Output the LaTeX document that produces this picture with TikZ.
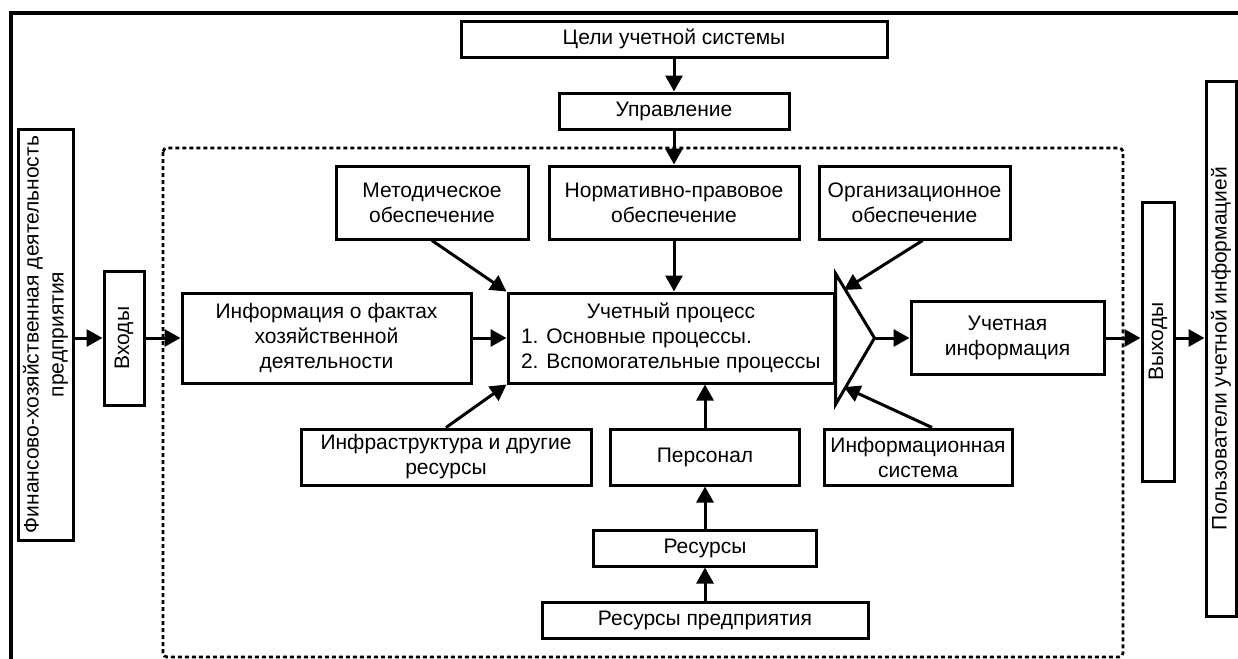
\documentclass[tikz,border=0pt]{standalone}
\usepackage{fontspec}
\setmainfont{Liberation Sans}
\usetikzlibrary{arrows.meta}
\tikzset{
    plain-box/.style = {draw, line width=1.5pt, rectangle, inner sep=0pt, align=center, font=\fontsize{10.5}{12.5}\selectfont},
    flow-arrow/.style = {line width=1.5pt, -{Triangle[length=8pt, width=8.5pt]}},
    dash-frame/.style = {line width=1.4pt, dash pattern=on 2pt off 1.5pt, rounded corners=2pt},
}

\begin{document}
\begin{tikzpicture}[x=0.5pt, y=-0.5pt]
\useasboundingbox (0,0) rectangle (1238,659);
% outer frame and dashed area
\draw[line width=2.2pt] (11,659) -- (11,13) -- (1238,13);
\draw[dash-frame] (163,148) rectangle (1123,657);

% top
\node[plain-box, minimum width=213pt, minimum height=18pt] (goals) at (674,39) {Цели учетной системы};
\node[plain-box, minimum width=115pt, minimum height=18pt] (control) at (674,111) {Управление};

% upper row
\node[plain-box, minimum width=96pt, minimum height=36.5pt] (method) at (432,202.5) {Методическое\\обеспечение};
\node[plain-box, minimum width=125pt, minimum height=36.5pt] (norms) at (674,202.5) {Нормативно-правовое\\обеспечение};
\node[plain-box, minimum width=95.5pt, minimum height=36.5pt] (org) at (914.5,202.5) {Организационное\\обеспечение};

% middle row
\node[plain-box, rotate=90, minimum width=205.5pt, minimum height=27.5pt] (finance) at (45.5,334.5) {Финансово-хозяйственная деятельность\\предприятия};
\node[plain-box, rotate=90, minimum width=67pt, minimum height=20pt] (inputs) at (124,338) {Входы};
\node[plain-box, minimum width=144.5pt, minimum height=45pt] (facts) at (326.5,338) {Информация о фактах\\хозяйственной\\деятельности};
\node[plain-box, minimum width=163pt, minimum height=45pt, align=left] (process) at (671,338) {\makebox[150pt]{Учетный процесс}\\1. Основные процессы.\\2. Вспомогательные процессы};
\draw[line width=1.5pt, line join=miter] ([yshift=9pt]process.north east) -- ([xshift=19.5pt]process.east) coordinate (tip) -- ([yshift=-10pt]process.south east) -- cycle;
\coordinate (tri-top) at (844,290);
\coordinate (tri-bot) at (844,387);
\node[plain-box, minimum width=96.5pt, minimum height=36.5pt] (result) at (1007.5,338) {Учетная\\информация};
\node[plain-box, rotate=90, minimum width=139.5pt, minimum height=16pt] (outputs) at (1158,341.5) {Выходы};
\node[plain-box, rotate=90, minimum width=267.5pt, minimum height=15pt] (users) at (1221,348.5) {Пользователи учетной информацией};

% lower rows
\node[plain-box, minimum width=145pt, minimum height=28pt] (infra) at (446,457) {Инфраструктура и другие\\ресурсы};
\node[plain-box, minimum width=94.5pt, minimum height=28pt] (staff) at (705,457) {Персонал};
\node[plain-box, minimum width=94pt, minimum height=28pt] (infosys) at (918,457) {Информационная\\система};
\node[plain-box, minimum width=111.5pt, minimum height=18pt] (res) at (705,548) {Ресурсы};
\node[plain-box, minimum width=163pt, minimum height=18pt] (enterprise) at (705,620) {Ресурсы предприятия};

% arrows
\draw[flow-arrow] (goals) -- (control);
\draw[flow-arrow] (control) -- (norms);
\draw[flow-arrow] (norms.south) -- (norms.south |- process.north);
\draw[flow-arrow] (method.south) -- (process.north west);
\draw[flow-arrow] ([xshift=4pt]org.south) -- (tri-top);
\draw[flow-arrow] (finance.south |- inputs) -- (inputs.north);
\draw[flow-arrow] (inputs.south) -- (facts.west);
\draw[flow-arrow] (facts) -- (process);
\draw[flow-arrow] (tip) -- (result.west);
\draw[flow-arrow] (result.east) -- (outputs.north |- result);
\draw[flow-arrow] (outputs.south |- result) -- (users.north |- result);
\draw[flow-arrow] (infra.north) -- (process.south west);
\draw[flow-arrow] (staff.north) -- (staff.north |- process.south);
\draw[flow-arrow] ([xshift=7pt]infosys.north) -- (tri-bot);
\draw[flow-arrow] (res) -- (staff);
\draw[flow-arrow] (enterprise) -- (res);
\end{tikzpicture}
\end{document}
